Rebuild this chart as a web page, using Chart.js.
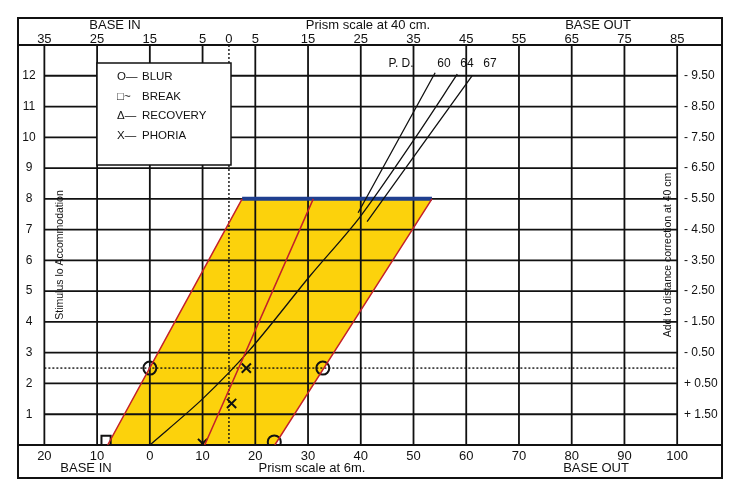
<!DOCTYPE html>
<html>
<head>
<meta charset="utf-8">
<script src="https://cdn.jsdelivr.net/npm/chart.js@4/dist/chart.umd.min.js"></script>
<style>
  body { margin: 0; background: #fff; }
  #wrap { width: 740px; height: 486px; }
</style>
</head>
<body>
<div id="wrap"><canvas id="chart"></canvas></div>
<script>
// x values are on the 6 m prism scale (base in negative), y is stimulus to accommodation
const gridX = [-20, -10, 0, 10, 20, 30, 40, 50, 60, 70, 80, 90, 100]
const gridY = [1, 2, 3, 4, 5, 6, 7, 8, 9, 10, 11, 12]
const bottomLabels = ['20', '10', '0', '10', '20', '30', '40', '50', '60', '70', '80', '90', '100']
const topPos = [-20, -10, 0, 10, 15, 20, 30, 40, 50, 60, 70, 80, 90, 100]
const topLabels = ['35', '25', '15', '5', '0', '5', '15', '25', '35', '45', '55', '65', '75', '85']
const rightLabels = ['+ 1.50', '+ 0.50', '- 0.50', '- 1.50', '- 2.50', '- 3.50', '- 4.50', '- 5.50', '- 6.50', '- 7.50', '- 8.50', '- 9.50']

const zoneLeft = [{ x: -8, y: 0 }, { x: 17.5, y: 8 }]
const zoneRight = [{ x: 23.7, y: 0 }, { x: 53.5, y: 8 }]
const phoriaLine = [{ x: 10.4, y: 0 }, { x: 31, y: 8 }]
const ampLine = [{ x: 17.5, y: 8 }, { x: 53.5, y: 8 }]
const demand64 = [{ x: 0, y: 0 }, { x: 10, y: 1.5 }, { x: 19, y: 3.1 }, { x: 30.4, y: 5.5 }, { x: 39.8, y: 7.4 }, { x: 50, y: 9.9 }, { x: 58.3, y: 12.05 }]
const demand60 = [{ x: 39.5, y: 7.55 }, { x: 54.1, y: 12.1 }]
const demand67 = [{ x: 41.2, y: 7.26 }, { x: 61.1, y: 12.0 }]
const blurPts = [{ x: 0, y: 2.5 }, { x: 32.8, y: 2.5 }, { x: 23.6, y: 0.1 }]
const breakPts = [{ x: -8.3, y: 0.15 }]
const phoriaPts = [{ x: 10, y: 0.05 }, { x: 15.5, y: 1.35 }, { x: 18.3, y: 2.5 }]
const dottedY = 2.5
const dottedX = 15

const font = '"Liberation Sans", Arial, sans-serif'

const paper = {
  id: 'paper',
  beforeDatasetsDraw (chart) {
    const { ctx, scales: { x, y }, chartArea: a } = chart
    ctx.save()
    // yellow zone
    ctx.beginPath()
    ctx.moveTo(x.getPixelForValue(zoneLeft[0].x), y.getPixelForValue(0))
    ctx.lineTo(x.getPixelForValue(zoneLeft[1].x), y.getPixelForValue(8))
    ctx.lineTo(x.getPixelForValue(zoneRight[1].x), y.getPixelForValue(8))
    ctx.lineTo(x.getPixelForValue(zoneRight[0].x), y.getPixelForValue(0))
    ctx.closePath()
    ctx.fillStyle = '#fcd20c'
    ctx.fill()
    // grid
    ctx.strokeStyle = '#111'
    ctx.lineWidth = 1.8
    gridX.forEach(v => {
      const px = x.getPixelForValue(v)
      ctx.beginPath(); ctx.moveTo(px, a.top); ctx.lineTo(px, a.bottom); ctx.stroke()
    })
    gridY.forEach(v => {
      const py = y.getPixelForValue(v)
      ctx.beginPath(); ctx.moveTo(x.getPixelForValue(-20), py); ctx.lineTo(x.getPixelForValue(100), py); ctx.stroke()
    })
    ctx.setLineDash([2, 2])
    ctx.lineWidth = 1.4
    const py = y.getPixelForValue(dottedY)
    ctx.beginPath(); ctx.moveTo(x.getPixelForValue(-20), py); ctx.lineTo(x.getPixelForValue(100), py); ctx.stroke()
    const px = x.getPixelForValue(dottedX)
    ctx.beginPath(); ctx.moveTo(px, a.top); ctx.lineTo(px, a.bottom); ctx.stroke()
    ctx.setLineDash([])
    // frame
    ctx.lineWidth = 2
    ctx.strokeRect(a.left, 18, a.right - a.left, 460)
    ctx.beginPath(); ctx.moveTo(a.left, a.top); ctx.lineTo(a.right, a.top); ctx.stroke()
    ctx.beginPath(); ctx.moveTo(a.left, a.bottom); ctx.lineTo(a.right, a.bottom); ctx.stroke()
    // texts
    ctx.fillStyle = '#111'
    ctx.font = '13px ' + font
    ctx.textAlign = 'center'
    ctx.textBaseline = 'middle'
    topPos.forEach((v, i) => ctx.fillText(topLabels[i], x.getPixelForValue(v), 39))
    gridX.forEach((v, i) => ctx.fillText(bottomLabels[i], x.getPixelForValue(v), 456))
    ctx.fillText('BASE IN', 115, 25)
    ctx.fillText('Prism scale at 40 cm.', 368, 25)
    ctx.fillText('BASE OUT', 598, 25)
    ctx.fillText('BASE IN', 86, 468)
    ctx.fillText('Prism scale at 6m.', 312, 468)
    ctx.fillText('BASE OUT', 596, 468)
    ctx.font = '12px ' + font
    gridY.forEach((v, i) => {
      const yy = y.getPixelForValue(v)
      ctx.textAlign = 'center'
      ctx.fillText(String(v), 29, yy)
      ctx.textAlign = 'left'
      ctx.fillText(rightLabels[i], 684, yy)
    })
    ctx.textAlign = 'center'
    ctx.fillText('P. D.', 401, 64)
    ctx.fillText('60', 444, 64)
    ctx.fillText('64', 467, 64)
    ctx.fillText('67', 490, 64)
    ctx.font = '10.5px ' + font
    ctx.save(); ctx.translate(60, 255); ctx.rotate(-Math.PI / 2); ctx.fillText('Stimulus lo Accommodation', 0, 0); ctx.restore()
    ctx.save(); ctx.translate(668, 255); ctx.rotate(-Math.PI / 2); ctx.fillText('Add to distance correction at 40 cm', 0, 0); ctx.restore()
    // legend box
    ctx.fillStyle = '#fff'
    ctx.fillRect(97, 63, 134, 102)
    ctx.lineWidth = 1.5
    ctx.strokeRect(97, 63, 134, 102)
    ctx.fillStyle = '#111'
    ctx.font = '11.5px ' + font
    ctx.textAlign = 'left'
    const legend = [['O—', 'BLUR'], ['□~', 'BREAK'], ['Δ—', 'RECOVERY'], ['X—', 'PHORIA']]
    legend.forEach((l, i) => {
      ctx.fillText(l[0], 117, 77 + i * 19.5)
      ctx.fillText(l[1], 142, 77 + i * 19.5)
    })
    ctx.restore()
  }
}

const line = (data, color, width) => ({
  type: 'line', data, borderColor: color, borderWidth: width, pointRadius: 0, fill: false, tension: 0.3
})
const marks = (data, style) => ({
  type: 'scatter', data, pointStyle: style, pointRadius: 6.5, pointBorderWidth: 2,
  pointBorderColor: '#111', pointBackgroundColor: 'rgba(0,0,0,0)'
})

new Chart(document.getElementById('chart'), {
  type: 'scatter',
  data: {
    datasets: [
      line(zoneLeft, '#c4202a', 1.5),
      line(zoneRight, '#c4202a', 1.5),
      line(phoriaLine, '#c4202a', 1.5),
      line(demand64, '#111', 1.3),
      line(demand60, '#111', 1.3),
      line(demand67, '#111', 1.3),
      line(ampLine, '#1f3f8f', 4),
      marks(blurPts, 'circle'),
      marks(breakPts, 'rect'),
      marks(phoriaPts, 'crossRot')
    ]
  },
  options: {
    responsive: true,
    maintainAspectRatio: false,
    animation: false,
    layout: { padding: { left: 18, right: 18, top: 45, bottom: 41 } },
    plugins: { legend: { display: false }, tooltip: { enabled: false } },
    scales: {
      x: { type: 'linear', min: -25, max: 108.5, display: false },
      y: { type: 'linear', min: 0, max: 13, display: false }
    }
  },
  plugins: [paper]
})
</script>
</body>
</html>
